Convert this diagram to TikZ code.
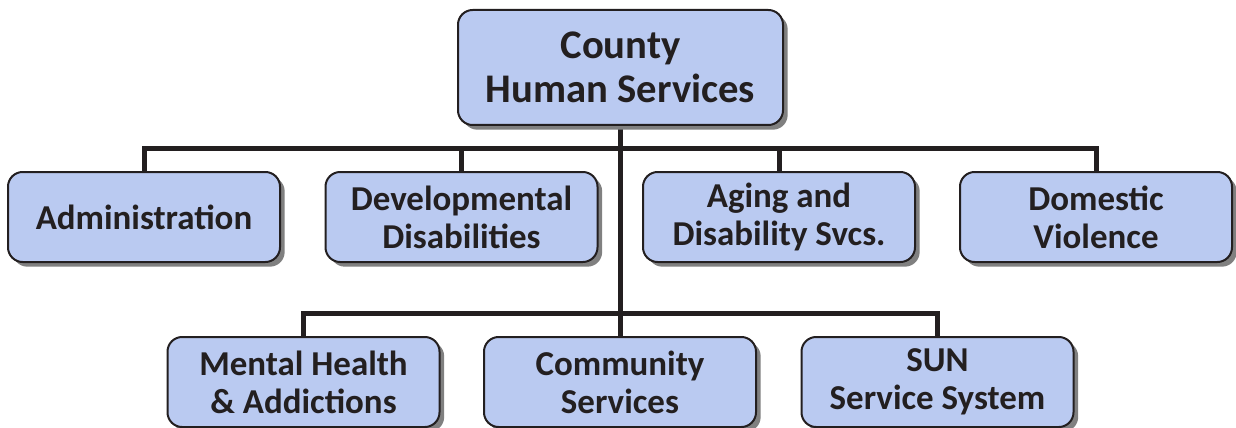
\documentclass[tikz,border=0pt]{standalone}
\usepackage{fontspec}
\setmainfont{Carlito}
\usetikzlibrary{shadows}
\definecolor{boxblue}{RGB}{186,202,241}
\definecolor{ink}{RGB}{35,31,32}
\begin{document}
\begin{tikzpicture}[x=0.75pt,y=-0.75pt,
  box/.style={draw=ink, line width=1.5pt, fill=boxblue, rounded corners=11pt,
    minimum width=204pt, minimum height=67.5pt, inner sep=0pt, align=center,
    font=\bfseries\fontsize{26.2}{28.5}\selectfont, text=ink,
    drop shadow={shadow xshift=3.5pt, shadow yshift=-3.5pt, fill=black!50, opacity=1}},
  conn/.style={line width=3.75pt, draw=ink}]
\useasboundingbox (0,0) rectangle (1236,428);
% connectors first (behind boxes)
\coordinate (j1) at (620,148);
\coordinate (j2) at (620,313);
\coordinate (tb) at (620,125);
\coordinate (a) at (144,172);
\coordinate (d) at (461.5,172);
\coordinate (g) at (779,172);
\coordinate (v) at (1096,172);
\coordinate (m) at (303.5,337);
\coordinate (c) at (620,337);
\coordinate (s) at (937.5,337);
\draw[conn] (tb) -- (c);
\draw[conn] (a) |- (j1) -| (v);
\draw[conn] (d) -- (d |- j1);
\draw[conn] (g) -- (g |- j1);
\draw[conn] (m) |- (j2) -| (s);
% boxes
\node[box, minimum width=243.75pt, minimum height=86.25pt,
  font=\bfseries\fontsize{30.5}{33}\selectfont] (top) at (620.5,67.5) {County\\Human Services};
\node[box] (admin) at (144,217) {Administration};
\node[box] (dev) at (461.5,217) {Developmental\\Disabilities};
\node[box] (aging) at (779,217) {Aging and\\Disability Svcs.};
\node[box] (dom) at (1096,217) {Domestic\\Violence};
\node[box] (mh) at (303.5,382) {Mental Health\\\& Addictions};
\node[box] (cs) at (620,382) {Community\\Services};
\node[box] (sun) at (937.5,382) {SUN\\Service System};
\end{tikzpicture}
\end{document}
